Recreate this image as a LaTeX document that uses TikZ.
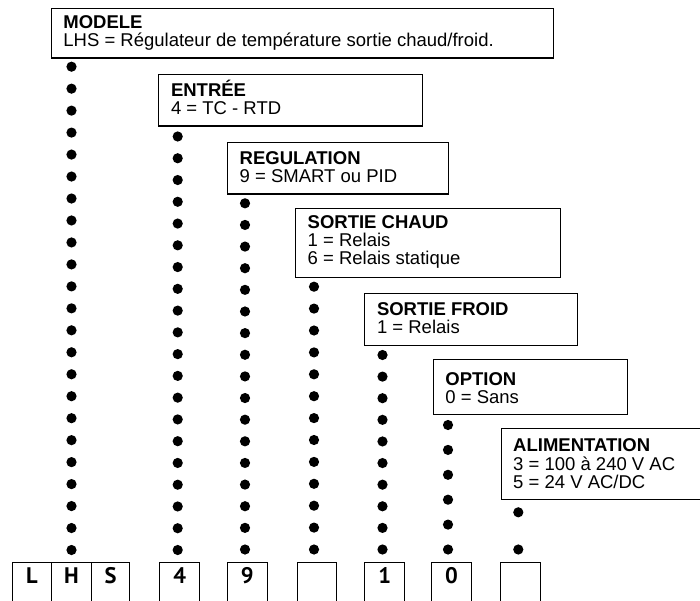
\documentclass[tikz,border=0pt]{standalone}
\usepackage{fontspec}
\setmainfont{Liberation Sans}
\newfontfamily\cellfont{PT Sans}
\tikzset{
  box/.style={draw=black, line width=1.1pt, anchor=north west, inner sep=0pt, fill=white},
  lbl/.style={anchor=base west, align=left, inner sep=0pt, font=\fontsize{18.5}{18.3}\selectfont},
  cell/.style={draw=black, line width=1.1pt, anchor=north west, inner sep=0pt, minimum height=50pt},
  celltxt/.style={anchor=base, inner sep=0pt, font=\cellfont\bfseries\fontsize{22.5}{26}\selectfont},
}
\begin{document}
\begin{tikzpicture}[x=1pt,y=-1pt]
\useasboundingbox (0,0) rectangle (700,601);
\clip (0,0) rectangle (700,601);
\fill[white] (0,0) rectangle (700,601);
% description boxes
\node[box, minimum width=502.6pt, minimum height=49.2pt] (modele) at (50.7,8.3) {};
\node[box, minimum width=263.7pt, minimum height=51.5pt] (entree) at (158.3,74) {};
\node[box, minimum width=221.3pt, minimum height=51.8pt] (regul) at (227,141.7) {};
\node[box, minimum width=265pt, minimum height=68.4pt] (chaud) at (295,208.3) {};
\node[box, minimum width=212.2pt, minimum height=51.7pt] (froid) at (364.3,293.3) {};
\node[box, minimum width=193.8pt, minimum height=55pt] (option) at (432.7,359.3) {};
\node[box, minimum width=209.5pt, minimum height=71pt] (alim) at (500.5,428) {};
% texts (anchor = baseline of the last line)
\node[lbl] (modeleT) at ([shift={(12.5,38.4)}]modele.north west) {\textbf{MODELE}\\LHS = Régulateur de température sortie chaud/froid.};
\node[lbl] (entreeT) at ([shift={(12.5,40.5)}]entree.north west) {\textbf{ENTRÉE}\\4 = TC - RTD};
\node[lbl] (regulT) at ([shift={(12.5,41.3)}]regul.north west) {\textbf{REGULATION}\\9 = SMART ou PID};
\node[lbl] (chaudT) at ([shift={(12.5,56.7)}]chaud.north west) {\textbf{SORTIE CHAUD}\\1 = Relais\\6 = Relais statique};
\node[lbl] (froidT) at ([shift={(12.5,40.5)}]froid.north west) {\textbf{SORTIE FROID}\\1 = Relais};
\node[lbl] (optionT) at ([shift={(12.5,44)}]option.north west) {\textbf{OPTION}\\0 = Sans};
\node[lbl] (alimT) at ([shift={(12.5,60.3)}]alim.north west) {\textbf{ALIMENTATION}\\3 = 100 à 240 V AC\\5 = 24 V AC/DC};
% code cells
\node[cell, minimum width=39.3pt] (cL) at (11.7,561.5) {};
\node[cell, minimum width=39.7pt] (cH) at (51,561.5) {};
\node[cell, minimum width=38.6pt] (cS) at (90.7,561.5) {};
\node[cell, minimum width=39.7pt] (c4) at (159.3,561.5) {};
\node[cell, minimum width=40pt] (c9) at (226.7,561.5) {};
\node[cell, minimum width=39.3pt] (cE1) at (296.7,561.5) {};
\node[cell, minimum width=40.3pt] (c1) at (364,561.5) {};
\node[cell, minimum width=40pt] (c0) at (431,561.5) {};
\node[cell, minimum width=40pt] (cE2) at (500,561.5) {};
\node[celltxt] (tL) at ([yshift=-21.5pt]cL.north) {L};
\node[celltxt] (tH) at ([yshift=-21.5pt]cH.north) {H};
\node[celltxt] (tS) at ([yshift=-21.5pt]cS.north) {S};
\node[celltxt] (t4) at ([yshift=-21.5pt]c4.north) {4};
\node[celltxt] (t9) at ([yshift=-21.5pt]c9.north) {9};
\node[celltxt] (t1) at ([yshift=-21.5pt]c1.north) {1};
\node[celltxt] (t0) at ([yshift=-21.5pt]c0.north) {0};
% dotted leaders
\foreach \x/\ya/\yb/\n in {71.5/66.7/550/23, 177.7/136.5/550/20, 245/203.3/549.5/17, 314/286.7/549.5/13, 382.5/355/549.5/10, 448/425/549.5/6, 518.3/512.3/549.5/2}{
  \pgfmathsetmacro{\st}{(\yb-\ya)/(\n-1)}
  \pgfmathtruncatemacro{\m}{\n-1}
  \foreach \i in {0,...,\m}{
    \fill[black] (\x,{\ya+\i*\st}) circle[radius=5.1pt];
  }
}
\end{tikzpicture}
\end{document}
